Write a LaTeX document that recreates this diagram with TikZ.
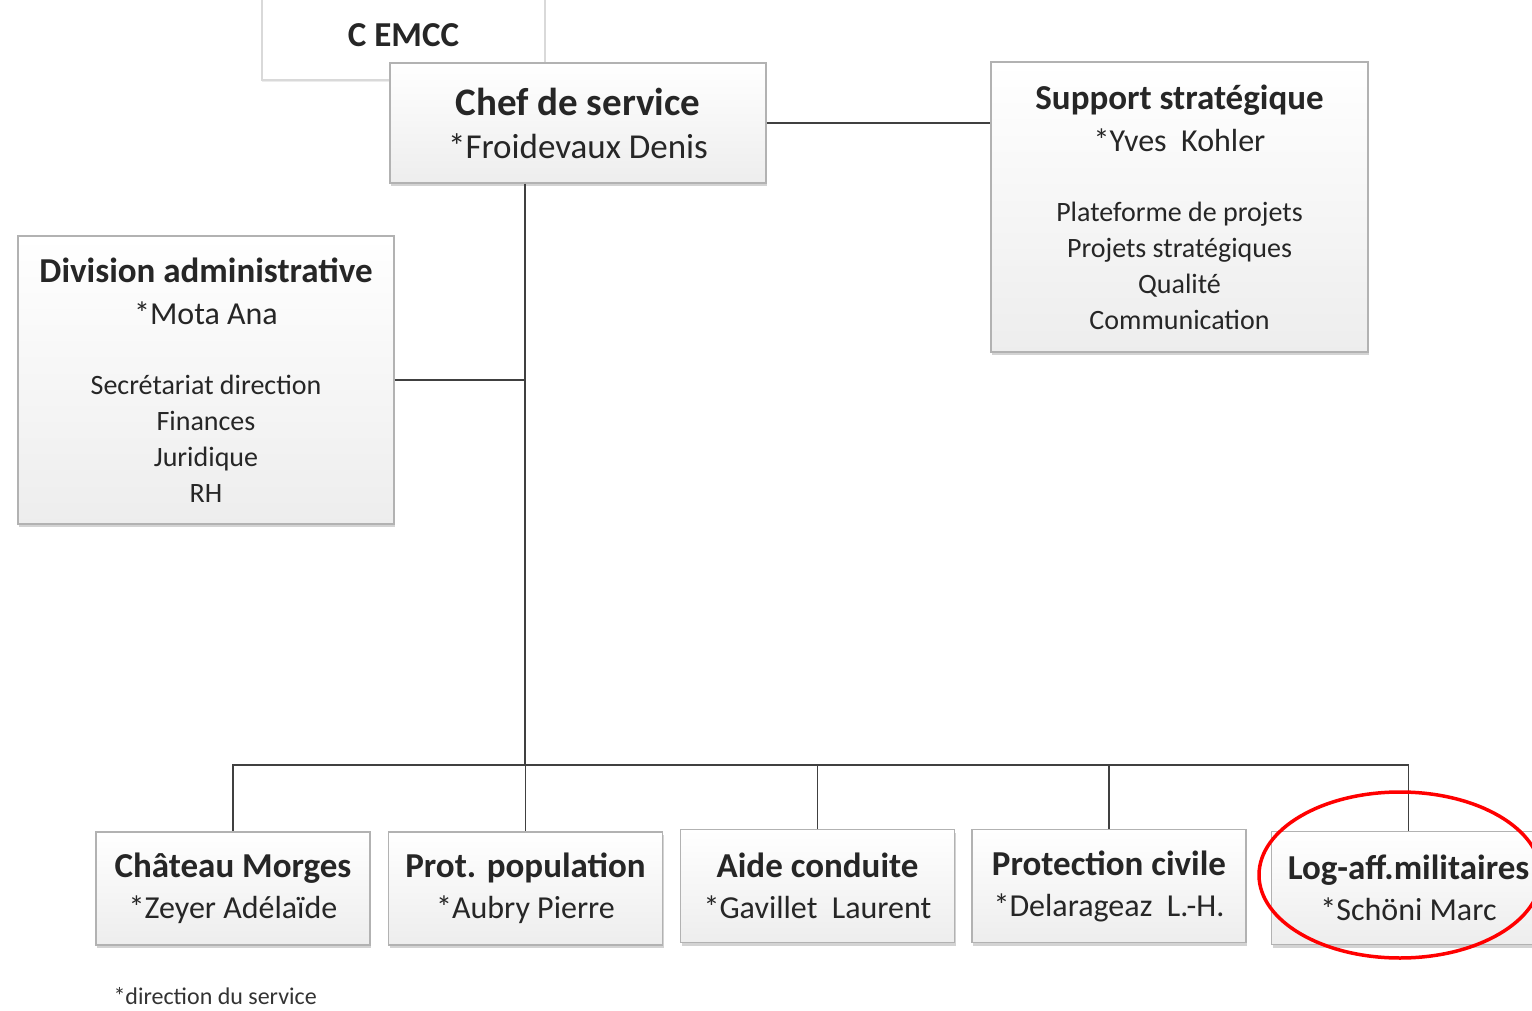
\documentclass[tikz,border=0pt]{standalone}
\usepackage{fontspec}
\setmainfont{Carlito}
\usetikzlibrary{calc,shapes,shadows,backgrounds}
\newcommand{\boxtitle}{\bfseries\fontsize{35}{42}\selectfont}
\newcommand{\boxname}{\fontsize{32}{42}\selectfont}

\begin{document}
\begin{tikzpicture}[x=1pt,y=-1pt,
  box/.style={draw=gray!60,line width=1.2pt,top color=white,bottom color=gray!14,
    drop shadow={shadow xshift=1pt,shadow yshift=-3pt,opacity=0.35},
    align=center,inner sep=0pt,text=black!85,font=\fontsize{28}{36}\selectfont},
  oldbox/.style={draw=gray!30,line width=1.5pt,fill=white,
    drop shadow={shadow xshift=0pt,shadow yshift=-2pt,opacity=0.15}},
  link/.style={draw=black!75,line width=1.6pt}]
  \useasboundingbox (0,0) rectangle (1532,1011);

  % upper level, only partly visible
  \node[oldbox,minimum width=283pt,minimum height=100pt,
    font=\bfseries\fontsize{35}{36}\selectfont,text=black!85] (emcc) at (403.5,30)
    {\raisebox{-17pt}[0pt][0pt]{C EMCC}};

  \node[box,minimum width=376pt,minimum height=120pt] (chef) at (578,123)
    {{\bfseries\fontsize{39}{44}\selectfont Chef de service}\\[7pt]{\fontsize{35}{44}\selectfont *Froidevaux Denis}};

  \node[box,minimum width=377pt,minimum height=290pt] (support) at (1179.5,207)
    {{\boxtitle Support stratégique}\\[6pt]{\boxname *Yves\ \ Kohler}\\[34pt]
     Plateforme de projets\\Projets stratégiques\\Qualité\\Communication};

  \node[box,minimum width=376pt,minimum height=288pt] (division) at (206,380)
    {{\boxtitle Division administrative}\\[6pt]{\boxname *Mota Ana}\\[34pt]
     Secrétariat direction\\Finances\\Juridique\\RH};

  \coordinate (trunk) at (525,765);
  \draw[link] (chef.south -| trunk) -- (trunk);
  \draw[link] (chef.east) -- (chef.east -| support.west);
  \draw[link] (division.east) -- (division.east -| trunk);

  % services
  \foreach \name/\x/\y/\title/\person in {
      castle/233/888.5/Château Morges/*Zeyer Adélaïde,
      population/525.5/888.5/Prot. population/*Aubry Pierre,
      conduct/817.5/886/Aide conduite/*Gavillet\ \ Laurent,
      civil/1109/886/Protection civile/*Delarageaz\ \ L.-H.,
      military/1408.5/888/Log-aff.militaires/*Schöni Marc}
  {
    \node[box,minimum width=274pt,minimum height=113pt] (\name) at (\x,\y)
      {{\boxtitle\fontsize{35}{41}\selectfont \title}\\[5pt]{\boxname \person}};
    \draw[link] (trunk) -| (\name.north);
  }

  \node[draw=red,line width=3.5pt,ellipse,minimum width=282pt,minimum height=166pt] (circled) at (1400,875) {};

  \node[anchor=west,font=\fontsize{24}{28}\selectfont,text=black!80] (note) at (110,996) {*direction du service};
\end{tikzpicture}
\end{document}
